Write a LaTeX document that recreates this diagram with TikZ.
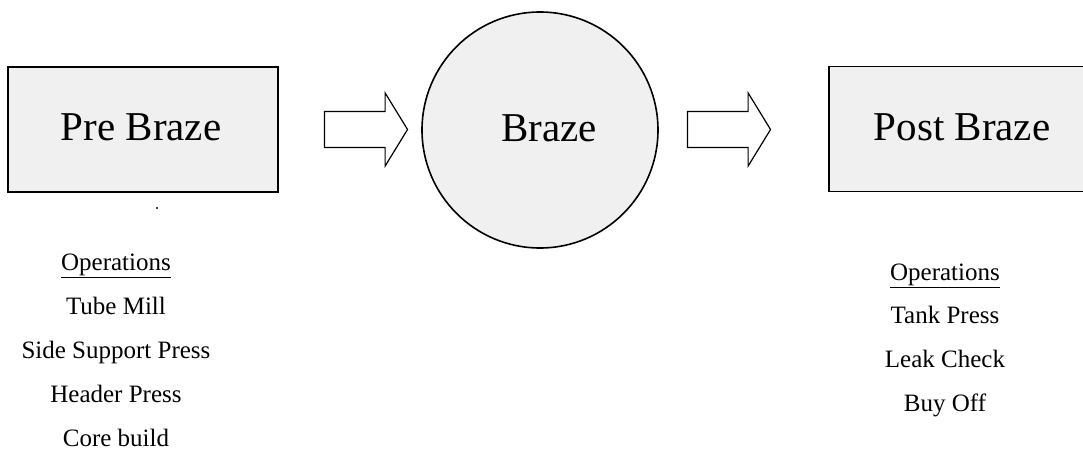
\documentclass[tikz,border=0pt]{standalone}
\usepackage{fontspec}
\setmainfont{Liberation Serif}
\usetikzlibrary{shapes.arrows}
\begin{document}
\begin{tikzpicture}[x=0.75pt,y=-0.75pt,
  stagebox/.style={draw, line width=1.2pt, fill=black!6, inner sep=0pt,
    minimum width=202.5pt, minimum height=93.75pt},
  stagering/.style={draw, line width=1.2pt, fill=black!6, circle, inner sep=0pt,
    minimum size=177pt},
  bigtext/.style={font=\fontsize{30.75}{36}\selectfont, inner sep=0pt},
  optext/.style={font=\fontsize{18.75}{22}\selectfont, inner sep=0pt, anchor=base},
  blockarrow/.style={draw, line width=0.9pt, fill=white, single arrow,
    single arrow head extend=13.9pt, single arrow head indent=0pt,
    single arrow tip angle=117, inner xsep=0pt, inner ysep=13.1pt,
    minimum height=62.25pt, anchor=center}
]
\useasboundingbox (0,0) rectangle (1083,450);
\begin{scope}
\clip (0,0) rectangle (1083,450);

% stage shapes
\node[stagebox] (pre) at (143,129.5) {};
\node[stagering] (braze) at (540,130) {};
\node[stagebox, minimum width=201pt] (post) at (963,129) {};

% stage names
\node[bigtext] (preT) at (141,127) {Pre Braze};
\node[bigtext] (brazeT) at (549,128) {Braze};
\node[bigtext] (postT) at (962,127) {Post Braze};

% block arrows between stages
\node[blockarrow] (arrA) at (360.5,129.5) {};
\node[blockarrow] (arrB) at (723.5,129.5) {};
\end{scope}

% small mark below the first box
\fill (157,208) circle (0.8pt);

% operations before brazing
\node[optext] (opA) at (116,270) {\underline{Operations}};
\node[optext] (a1) at (116,314) {Tube Mill};
\node[optext] (a2) at (116,358) {Side Support Press};
\node[optext] (a3) at (116,402) {Header Press};
\node[optext] (a4) at (116,446) {Core build};

% operations after brazing
\node[optext] (opB) at (945,280) {\underline{Operations}};
\node[optext] (b1) at (945,323) {Tank Press};
\node[optext] (b2) at (945,367) {Leak Check};
\node[optext] (b3) at (945,411) {Buy Off};
\end{tikzpicture}
\end{document}
